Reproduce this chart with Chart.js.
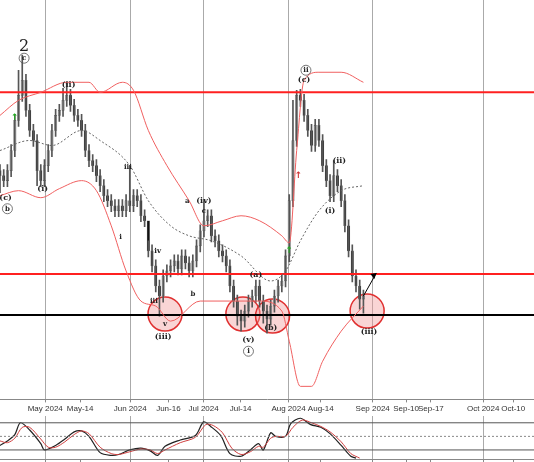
<!DOCTYPE html>
<html><head><meta charset="utf-8">
<script src="https://cdn.jsdelivr.net/npm/chart.js@4"></script>
<style>
body{margin:0;background:#fff;width:534px;height:462px;overflow:hidden;position:relative}
#main{position:absolute;left:0;top:0}
#stoch{position:absolute;left:0;top:416px}
</style></head><body>
<canvas id="main" width="534" height="416"></canvas>
<canvas id="stoch" width="534" height="46"></canvas>
<script>
// daily closes (bar index 0..98)
const closes = [225,220,230,250,280,305,320,290,270,260,230,220,235,250,270,285,290,300,305,295,285,280,270,250,240,235,225,215,205,200,195,190,195,190,200,195,205,200,185,180,150,135,115,105,125,130,135,140,132,145,138,130,140,155,170,180,185,165,160,150,145,135,115,100,85,80,90,100,105,115,100,90,82,95,105,115,120,145,200,260,305,300,285,270,255,275,260,235,220,205,225,215,200,175,150,125,115,102,105];
// notable wick extremes
const highSpikes = {6:345, 5:330, 18:318, 17:312, 35:235, 40:160, 55:200, 80:310, 79:300, 90:240};
const lowSpikes = {0:208, 10:215, 43:85, 65:70, 64:76, 72:68, 71:78, 98:88, 97:92};

const upperBand = [[0,285],[5,300],[11,308],[18,318],[24,318],[27,308],[33,318],[36,310],[40,270],[45,235],[51,200],[55,175],[60,180],[65,185],[70,180],[76,165],[78,158],[80,250],[82,320],[86,328],[92,328],[98,318]];
const middleBand = [[0,250],[8,260],[14,255],[22,270],[27,260],[35,235],[40,200],[46,175],[51,165],[57,160],[65,145],[73,120],[77,130],[81,160],[86,190],[92,210],[98,215]];
const lowerBand = [[0,205],[5,210],[11,203],[16,212],[22,220],[26,210],[30,175],[34,130],[38,100],[42,95],[46,80],[54,100],[62,100],[70,100],[76,90],[78,60],[81,15],[84,15],[87,40],[92,70],[98,95]];

const levels = [{y:308,c:'#ff2020',w:2},{y:127,c:'#ff2020',w:2},{y:86,c:'#000',w:2}];
const circles = [[44.5,87],[65.5,87],[73.5,85],[99,90]];
const waveLabels = [
  [6.5,353,'2',16,false],[6.5,342,'c',7,true],[18.5,315,'(ii)',8,false],[1.5,203,'(c)',8,false],[2,192,'b',7,true],
  [11.5,212,'(i)',8,false],[34.5,233,'iii',7,false],[32.5,164,'i',7,false],[42.5,150,'iv',7,false],[50.5,200,'a',7,false],
  [52,107,'b',7,false],[55,200,'(iv)',8,false],[55,190,'c',7,false],[41.5,100,'iii',7,false],[44.5,77,'v',7,false],
  [44,64,'(iii)',8,false],[67,61,'(v)',8,false],[67,50,'i',7,true],[69,126,'(a)',8,false],[73,73,'(b)',8,false],
  [82.5,330,'ii',7,true],[82,320,'(c)',8,false],[91.5,240,'(ii)',8,false],[89,190,'(i)',8,false],[99.5,69,'(iii)',8,false]
];
const arrowMarks = [[4,283,'#2a2'],[78,150,'#2a2'],[80.5,225,'#c33']];

const tickPos = [12.2,21.6,35.1,45.4,54.9,64.9,77.8,86.5,100.5,109.5,116.2,130.3,138.4];
const tickText = ['May 2024','May-14','Jun 2024','Jun-16','Jul 2024','Jul-14','Aug 2024','Aug-14','Sep 2024','Sep-10','Sep-17','Oct 2024','Oct-10'];
const monthTickIdx = [0,2,4,6,8,11];

const stochK = [[0,30],[2,40],[4,54],[5.5,80],[8,64],[11,34],[12,20],[15,30],[17.5,44],[20,60],[22,62],[24,50],[27,14],[30,8],[32,10],[35,20],[38,24],[40.5,18],[42.5,8],[44.5,28],[48.6,42],[52.7,52],[54.9,82],[56.8,72],[59.5,52],[62,12],[65,6],[67.5,20],[69.7,34],[71,20],[73,58],[74.3,50],[77,50],[78.4,78],[81,90],[83.8,76],[86.5,70],[89,56],[92,30],[94.6,6],[96,2]];
const stochD = [[0,40],[2,36],[4,46],[6,70],[8,70],[11,44],[13,26],[15,26],[17.5,38],[20,54],[22,62],[24,56],[27,26],[30,12],[32,10],[35,16],[38,22],[40.5,20],[42.5,12],[44.5,20],[48.6,36],[52.7,48],[55.5,76],[57.5,74],[60,58],[62.5,24],[65,10],[67.5,16],[69.7,28],[71,26],[73,46],[74.5,50],[77,50],[79,70],[81.5,86],[84,80],[86.5,72],[89,60],[92,38],[94.6,12],[97,2]];

const opens = closes.map((c, i) => i === 0 ? 230 : closes[i - 1]);
const bodies = closes.map((c, i) => ({x: i, y: [opens[i], c]}));
const wicks = closes.map((c, i) => ({x: i, y: [lowSpikes[i] ?? Math.min(opens[i], c) - 6, highSpikes[i] ?? Math.max(opens[i], c) + 6]}));
const pts = a => a.map(p => ({x: p[0], y: p[1]}));

const overlay = {
  id: 'overlay',
  beforeDatasetsDraw(chart) {
    const {ctx, scales: {x, y}} = chart;
    ctx.save();
    circles.forEach(c => {
      ctx.beginPath();
      ctx.arc(x.getPixelForValue(c[0]), y.getPixelForValue(c[1]), 17, 0, Math.PI * 2);
      ctx.fillStyle = 'rgba(240,150,150,0.4)'; ctx.fill();
      ctx.strokeStyle = '#e03030'; ctx.lineWidth = 1.5; ctx.stroke();
    });
    ctx.restore();
  },
  afterDatasetsDraw(chart) {
    const {ctx, scales: {x, y}} = chart;
    ctx.save();
    ctx.textAlign = 'center'; ctx.textBaseline = 'middle';
    waveLabels.forEach(l => {
      const px = x.getPixelForValue(l[0]), py = y.getPixelForValue(l[1]);
      ctx.font = (l[3] > 10 ? '' : 'bold ') + l[3] + 'px "DejaVu Serif"';
      ctx.fillStyle = '#222';
      ctx.fillText(l[2], px, py);
      if (l[4]) { ctx.beginPath(); ctx.arc(px, py, 5, 0, Math.PI * 2); ctx.strokeStyle = '#555'; ctx.lineWidth = 0.8; ctx.stroke(); }
    });
    arrowMarks.forEach(a => {
      ctx.fillStyle = a[2]; ctx.font = 'bold 9px DejaVu Sans';
      ctx.fillText('\u2191', x.getPixelForValue(a[0]), y.getPixelForValue(a[1]));
    });
    // projection arrow
    const x0 = x.getPixelForValue(98), y0 = y.getPixelForValue(105), x1 = x.getPixelForValue(101.5), y1 = y.getPixelForValue(128);
    ctx.strokeStyle = '#000'; ctx.lineWidth = 1;
    ctx.beginPath(); ctx.moveTo(x0, y0); ctx.lineTo(x1, y1); ctx.stroke();
    ctx.beginPath(); ctx.moveTo(x1, y1); ctx.lineTo(x1 - 6, y1 + 1); ctx.lineTo(x1 - 2, y1 + 6); ctx.closePath(); ctx.fillStyle = '#000'; ctx.fill();
    ctx.restore();
  }
};

const xScale = (showTicks) => ({
  type: 'linear', min: 0, max: 144, offset: false,
  afterBuildTicks: s => { s.ticks = tickPos.map(v => ({value: v})); },
  ticks: {display: showTicks, autoSkip: false, maxRotation: 0, font: {size: 8, family: 'Liberation Sans'}, color: '#333', padding: 2,
    callback: (v, i) => tickText[i]},
  grid: {color: c => monthTickIdx.includes(c.index) ? '#aaa' : 'rgba(0,0,0,0)', drawTicks: true, tickLength: 3, tickColor: '#888', offset: false},
  border: {display: true, color: '#888'}
});

new Chart(document.getElementById('main'), {
  type: 'bar',
  data: {
    datasets: [
      {type: 'line', data: pts(upperBand), borderColor: '#f06060', borderWidth: 1, pointRadius: 0, cubicInterpolationMode: 'monotone'},
      {type: 'line', data: pts(lowerBand), borderColor: '#f06060', borderWidth: 1, pointRadius: 0, cubicInterpolationMode: 'monotone'},
      {type: 'line', data: pts(middleBand), borderColor: '#666', borderWidth: 1, borderDash: [2, 2], pointRadius: 0, cubicInterpolationMode: 'monotone'},
      ...levels.map(l => ({type: 'line', data: [{x: 0, y: l.y}, {x: 144, y: l.y}], borderColor: l.c, borderWidth: l.w, pointRadius: 0})),
      {data: wicks, backgroundColor: '#555', barThickness: 1, grouped: false},
      {data: bodies, backgroundColor: bodies.map(b => b.y[1] >= b.y[0] ? '#e8e8e8' : '#111'),
        borderColor: '#666', borderWidth: 0.6, borderSkipped: false, barThickness: 2.5, grouped: false}
    ]
  },
  options: {
    responsive: false, animation: false,
    layout: {padding: 0},
    plugins: {legend: {display: false}, tooltip: {enabled: false}},
    scales: {
      x: xScale(true),
      y: {display: false, min: 2, max: 400}
    }
  },
  plugins: [overlay]
});

new Chart(document.getElementById('stoch'), {
  type: 'line',
  data: {
    datasets: [
      {data: [{x: 0, y: 80}, {x: 144, y: 80}], borderColor: '#555', borderWidth: 1, pointRadius: 0},
      {data: [{x: 0, y: 50}, {x: 144, y: 50}], borderColor: '#888', borderWidth: 1, borderDash: [2, 2], pointRadius: 0},
      {data: [{x: 0, y: 20}, {x: 144, y: 20}], borderColor: '#555', borderWidth: 1, pointRadius: 0},
      {data: pts(stochD), borderColor: '#d04040', borderWidth: 1, pointRadius: 0, tension: 0.3},
      {data: pts(stochK), borderColor: '#222', borderWidth: 1.2, pointRadius: 0, tension: 0.3}
    ]
  },
  options: {
    responsive: false, animation: false, layout: {padding: 0},
    plugins: {legend: {display: false}, tooltip: {enabled: false}},
    scales: {x: Object.assign(xScale(false), {display: true}), y: {display: false, min: 0, max: 95}}
  }
});
</script>
</body></html>
